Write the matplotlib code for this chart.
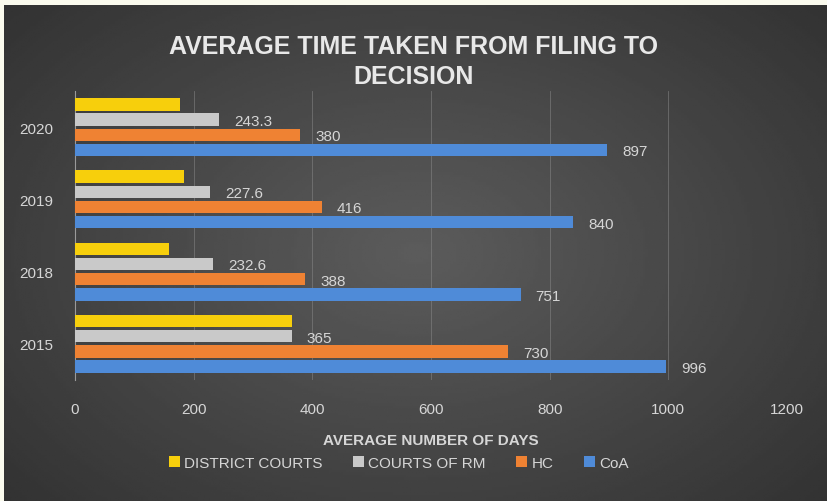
import numpy as np
import matplotlib
matplotlib.use("Agg")
import matplotlib.pyplot as plt

plt.rcParams['font.family'] = ['Liberation Sans', 'DejaVu Sans']

# data
years = ['2015', '2018', '2019', '2020']
series = ['DISTRICT COURTS', 'COURTS OF RM', 'HC', 'CoA']
district = [365, 158, 184, 177]
courts_rm = [365, 232.6, 227.6, 243.3]
hc = [730, 388, 416, 380]
coa = [996, 751, 840, 897]
# which bars carry a value label
rm_labels = ['365', '232.6', '227.6', '243.3']
hc_labels = ['730', '388', '416', '380']
coa_labels = ['996', '751', '840', '897']

colors = ['#f7cf0c', '#c9c9c9', '#ef8233', '#4f8bd8']
txt = '#d6d6d6'

fig = plt.figure(figsize=(8.28, 5.02), dpi=100)
fig.patch.set_facecolor('#fbfbee')

# dark panel with a soft lighter centre
bg = fig.add_axes([4/828, 0, 1 - 4/828, 1 - 6/502])
gx, gy = np.meshgrid(np.linspace(-1, 1, 300), np.linspace(-1, 1, 200))
r = np.sqrt(gx**2 + (gy * 0.9)**2)
bg.imshow(0.36 - 0.12 * r, cmap='gray', vmin=0, vmax=1, aspect='auto',
          extent=[0, 1, 0, 1])
bg.set_axis_off()

ax = fig.add_axes([75/828, 1 - 381/502, 712/828, 289/502])
ax.set_facecolor('none')

y = np.arange(len(years))
step = 0.21
h = 0.17
vals = [district, courts_rm, hc, coa]
offs = [1.5 * step, 0.5 * step, -0.5 * step, -1.5 * step]
for v, c, o, name in zip(vals, colors, offs, series):
    ax.barh(y + o, v, height=h, color=c, label=name, zorder=3)

lab_sets = [(courts_rm, rm_labels, offs[1]), (hc, hc_labels, offs[2]),
            (coa, coa_labels, offs[3])]
for v, labs, o in lab_sets:
    for yi, val, s in zip(y, v, labs):
        ax.text(val + 25, yi + o - 0.02, s, color=txt, fontsize=11,
                ha='left', va='center', zorder=4)

ax.set_xlim(0, 1200)
ax.set_ylim(-0.5, 3.5)
ax.set_xticks(np.arange(0, 1201, 200))
ax.set_yticks(y)
ax.set_yticklabels(years)
ax.tick_params(colors=txt, labelsize=11, length=0)
ax.tick_params(axis='x', pad=16)
ax.tick_params(axis='y', pad=16)
ax.grid(axis='x', color='#8a8a8a', linewidth=0.6, alpha=0.6, zorder=0)
for s in ['top', 'right', 'bottom']:
    ax.spines[s].set_visible(False)
ax.spines['left'].set_color('#9a9a9a')

ax.set_xlabel('AVERAGE NUMBER OF DAYS', color=txt, fontsize=11,
              fontweight='bold', labelpad=12)

fig.text(0.5, 1 - 62/502, 'AVERAGE TIME TAKEN FROM FILING TO\nDECISION',
         ha='center', va='center', color='#e8e8e8', fontsize=18,
         fontweight='bold', linespacing=1.3)

leg = ax.legend(loc='upper center', bbox_to_anchor=(0.455, -0.215), ncol=4,
                frameon=False, fontsize=11, handlelength=0.7, handleheight=0.7,
                handletextpad=0.3, columnspacing=2.0)
for t in leg.get_texts():
    t.set_color(txt)

fig.savefig('out.png', dpi=100, facecolor=fig.get_facecolor())
